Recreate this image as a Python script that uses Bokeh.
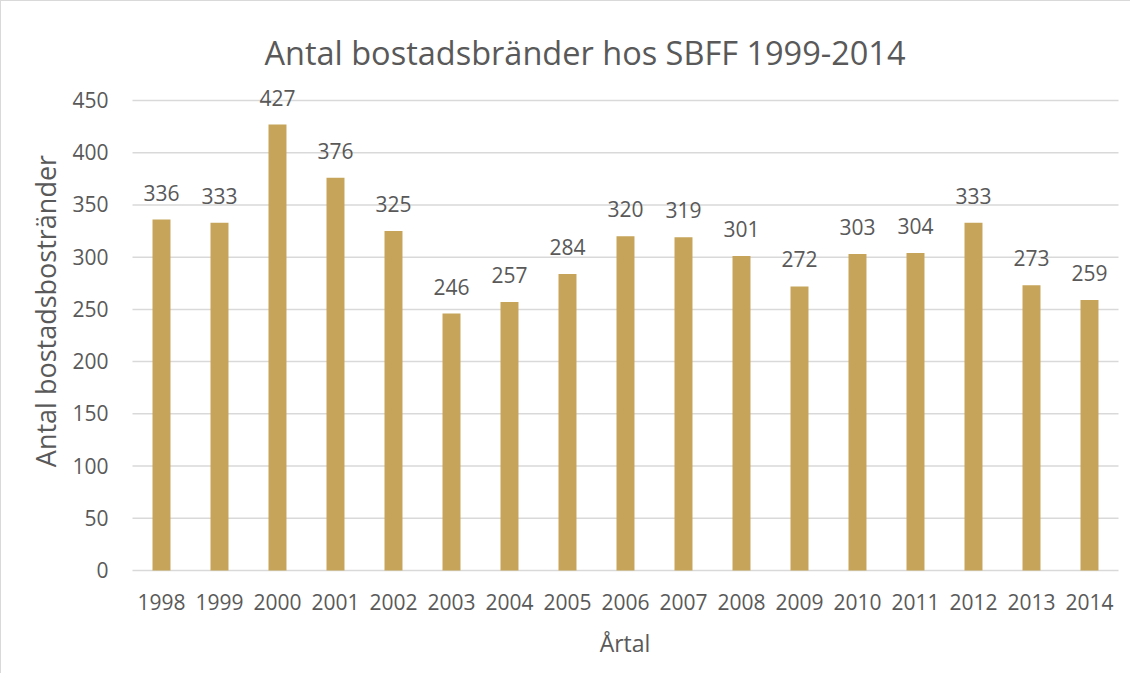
from math import pi
from bokeh.plotting import figure
from bokeh.models import ColumnDataSource, Range1d, Label, LabelSet
from bokeh.core.properties import value
from bokeh.embed import file_html
from bokeh.resources import INLINE

years = ["1998", "1999", "2000", "2001", "2002", "2003", "2004", "2005", "2006",
         "2007", "2008", "2009", "2010", "2011", "2012", "2013", "2014"]
fires = [336, 333, 427, 376, 325, 246, 257, 284, 320, 319, 301, 272, 303, 304, 333, 273, 259]
y_ticks = [0, 50, 100, 150, 200, 250, 300, 350, 400, 450]
title_text = "Antal bostadsbränder hos SBFF 1999-2014"
x_title = "Årtal"
y_title = "Antal bostadsbostränder"

FONT = "Open Sans"
TXT = "#595959"
GRID = "#d9d9d9"
BAR = "#C6A55A"

n = len(years)
idx = list(range(n))
x_lo, x_hi = -0.5, n - 0.5

# pixel layout (canvas 1130x673); plot area 986 x 470 px
W, H = 1130, 673
left_px, right_px, bottom_px = 131, 13, 104
px_x = 986 / n                      # px per category
px_y = 470 / y_ticks[-1]            # px per unit
x_range = Range1d(x_lo - left_px / px_x, x_hi + right_px / px_x)
y_range = Range1d(-bottom_px / px_y, (470 + 99) / px_y)

p = figure(width=W, height=H, output_backend="svg", toolbar_location=None,
           x_range=x_range, y_range=y_range,
           min_border_left=0, min_border_right=0, min_border_top=0, min_border_bottom=0,
           styles={"border-left": "1px solid #d9d9d9", "border-top": "1px solid #d9d9d9"})
p.outline_line_color = None
p.background_fill_color = "white"
p.border_fill_color = "white"
p.axis.visible = False
p.grid.visible = False

# gridlines
gsrc = ColumnDataSource(dict(y=y_ticks, x0=[x_lo] * len(y_ticks), x1=[x_hi] * len(y_ticks),
                             label=[str(t) for t in y_ticks]))
p.segment(x0="x0", x1="x1", y0="y", y1="y", source=gsrc, line_color=GRID, line_width=1.5)

# bars
src = ColumnDataSource(dict(x=idx, top=fires, label=[str(v) for v in fires],
                            year=years, zero=[0] * n))
p.vbar(x="x", top="top", width=0.31, source=src, fill_color=BAR, line_color=None)

# value labels
p.add_layout(LabelSet(x="x", y="top", text="label", source=src, text_align="center",
                      text_baseline="alphabetic", y_offset=19, text_font=value(FONT),
                      text_font_size=value("21px"), text_color=value(TXT)))

# category labels
p.add_layout(LabelSet(x="x", y="zero", text="year", source=src, text_align="center",
                      text_baseline="alphabetic", y_offset=-39, text_font=value(FONT),
                      text_font_size=value("21px"), text_color=value(TXT)))

# value-axis labels
p.add_layout(LabelSet(x="x0", y="y", text="label", source=gsrc, text_align="right",
                      text_baseline="alphabetic", x_offset=-24, y_offset=-7.5,
                      text_font=value(FONT), text_font_size=value("21px"),
                      text_color=value(TXT)))

# title and axis titles
p.add_layout(Label(x=x_lo + 452.5 / px_x, y=(578 - 60) / px_y, text=title_text,
                   text_align="center", text_baseline="alphabetic", text_font=FONT,
                   text_font_size="32.5px", text_color=TXT))
p.add_layout(Label(x=x_lo - 87 / px_x, y=(578 - 318.5) / px_y, text=y_title, angle=pi / 2,
                   text_align="center", text_baseline="alphabetic", text_font=FONT,
                   text_font_size="27px", text_color=TXT))
p.add_layout(Label(x=x_lo + 492.5 / px_x, y=(578 - 650) / px_y, text=x_title,
                   text_align="center", text_baseline="alphabetic", text_font=FONT,
                   text_font_size="23px", text_color=TXT))

open("out.html", "w").write(file_html(p, INLINE))
